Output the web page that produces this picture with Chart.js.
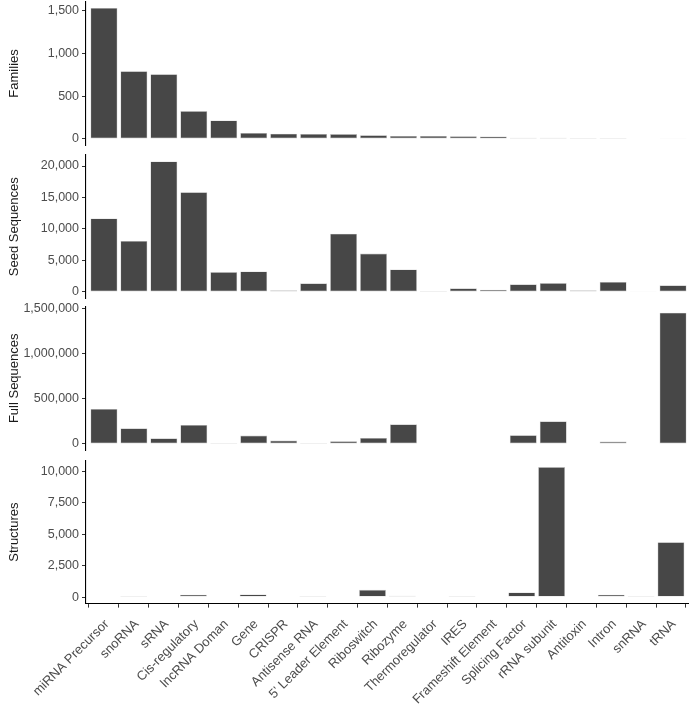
<!DOCTYPE html>
<html>
<head>
<meta charset="utf-8">
<script src="https://cdn.jsdelivr.net/npm/chart.js@4.4.1/dist/chart.umd.min.js"></script>
<style>
  html, body { margin: 0; padding: 0; background: #ffffff; }
  #wrap { position: relative; width: 691px; height: 704px; overflow: hidden; }
  canvas { position: absolute; left: 0; }
</style>
</head>
<body>
<div id="wrap">
  <canvas id="c1" width="691" height="166" style="top:-10px"></canvas>
  <canvas id="c2" width="691" height="165" style="top:144px"></canvas>
  <canvas id="c3" width="691" height="166" style="top:295px"></canvas>
  <canvas id="c4" width="691" height="256" style="top:448px"></canvas>
</div>
<script>
// ---- data ----
const categories = ['miRNA Precursor', 'snoRNA', 'sRNA', 'Cis-regulatory', 'lncRNA Doman', 'Gene', 'CRISPR',
  'Antisense RNA', "5' Leader Element", 'Riboswitch', 'Ribozyme', 'Thermoregulator', 'IRES',
  'Frameshift Element', 'Splicing Factor', 'rRNA subunit', 'Antitoxin', 'Intron', 'snRNA', 'tRNA'];

const families = [1531, 791, 756, 326, 217, 70, 62, 58, 57, 43, 35, 35, 33, 30, 15, 15, 12, 10, 4, 3];

const seedSequences = [11680, 8100, 20730, 15840, 3160, 3260, 263, 1370, 9260, 6100, 3580, 158, 580, 370,
  1210, 1420, 263, 1580, 50, 1050];

const fullSequences = [387000, 173000, 62600, 210000, 11000, 92000, 37000, 11000, 29500, 66000, 217000,
  4500, 5000, 4000, 96000, 250000, 4000, 26000, 4500, 1452000];

const structures = [40, 80, 40, 185, 0, 210, 40, 8, 0, 580, 100, 0, 80, 40, 370, 10340, 0, 185, 5, 4370];

const panelTitles = ['Families', 'Seed Sequences', 'Full Sequences', 'Structures'];
const tickSteps = [500, 5000, 500000, 2500];

// ---- drawing ----
const FONT = "'Liberation Sans', Arial, Helvetica, sans-serif";
const AXIS_W = 86;
const pads = [
  { top: 11.4, bottom: 8.6 },
  { top: 10.9, bottom: 9.8 },
  { top: 11.1, bottom: 9.6 },
  { top: 12.6, bottom: 0 }
];

function fmt(v) { return Number(v).toLocaleString('en-US'); }

function makeChart(id, values, title, step, showX, pad) {
  const maxV = Math.max(...values);
  const pts = values.map((v, i) => ({ x: i, y: v }));
  const xScale = {
    type: 'linear',
    min: -0.6,
    max: categories.length - 1 + 0.6,
    offset: false,
    display: showX,
    border: { display: true, color: '#000000', width: 1.1 },
    grid: { display: true, drawOnChartArea: false, drawTicks: true, tickLength: 4, color: '#333333', lineWidth: 1 },
    ticks: {
      autoSkip: false,
      minRotation: 45,
      maxRotation: 45,
      padding: 9,
      labelOffset: 3,
      color: '#4d4d4d',
      font: { family: FONT, size: 13 },
      callback: (v) => categories[v]
    },
    afterBuildTicks: (scale) => { scale.ticks = categories.map((_, i) => ({ value: i })); }
  };
  if (showX) xScale.afterFit = (scale) => { scale.height = 100.4; };
  return new Chart(document.getElementById(id), {
    type: 'bar',
    data: {
      datasets: [{
        data: pts,
        backgroundColor: '#474747',
        borderColor: '#c4c4c4',
        borderWidth: 0.6,
        borderSkipped: false,
        barPercentage: 0.9,
        categoryPercentage: 1.0
      }]
    },
    options: {
      responsive: false,
      maintainAspectRatio: false,
      animation: false,
      events: [],
      layout: { padding: { top: pad.top, bottom: pad.bottom, left: 0, right: 0 } },
      plugins: { legend: { display: false }, tooltip: { enabled: false } },
      scales: {
        x: xScale,
        y: {
          type: 'linear',
          min: -0.05 * maxV,
          max: 1.05 * maxV,
          border: { display: true, color: '#000000', width: 1.1 },
          grid: { display: true, drawOnChartArea: false, drawTicks: true, tickLength: 4, color: '#333333', lineWidth: 1 },
          ticks: {
            padding: 3,
            color: '#4d4d4d',
            font: { family: FONT, size: 12.5 },
            callback: (v) => fmt(v)
          },
          afterBuildTicks: (scale) => {
            const t = [];
            for (let v = 0; v <= scale.max + 1e-9; v += step) t.push({ value: v });
            scale.ticks = t;
          },
          afterFit: (scale) => { scale.width = AXIS_W; },
          title: {
            display: true,
            text: title,
            color: '#1a1a1a',
            font: { family: FONT, size: 13 },
            padding: { top: 7, bottom: 0 }
          }
        }
      }
    }
  });
}

makeChart('c1', families, panelTitles[0], tickSteps[0], false, pads[0]);
makeChart('c2', seedSequences, panelTitles[1], tickSteps[1], false, pads[1]);
makeChart('c3', fullSequences, panelTitles[2], tickSteps[2], false, pads[2]);
makeChart('c4', structures, panelTitles[3], tickSteps[3], true, pads[3]);
</script>
</body>
</html>
